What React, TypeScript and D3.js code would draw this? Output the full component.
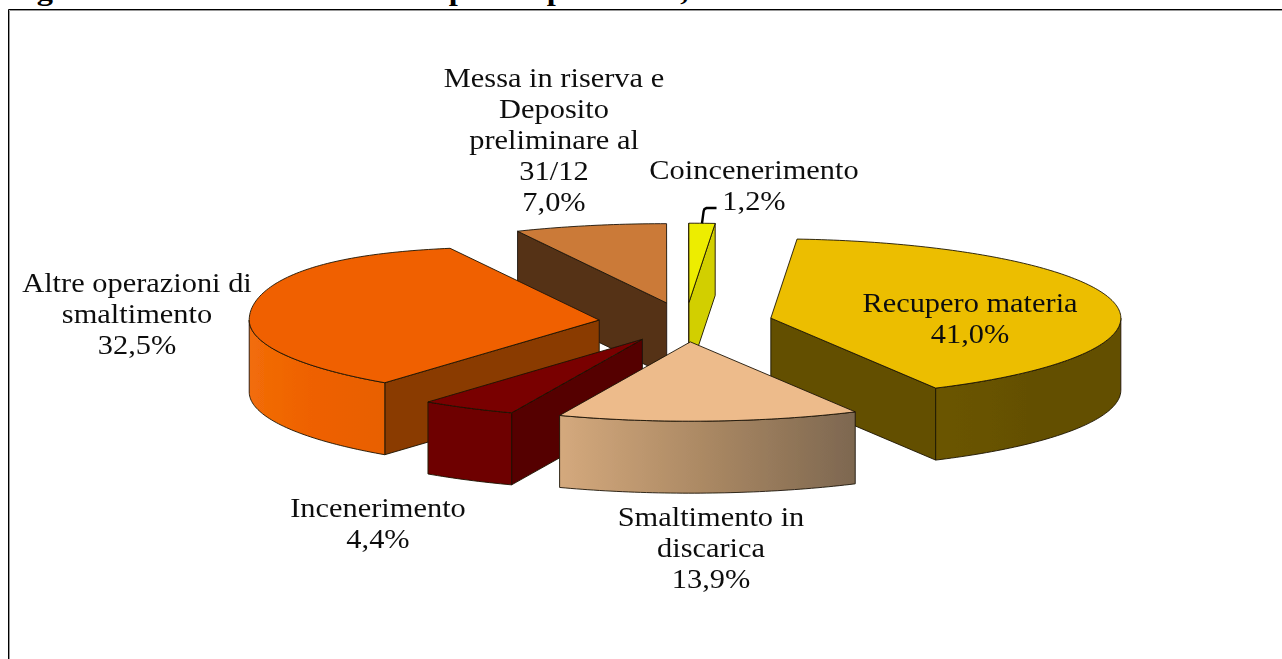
import React from "react";
import * as d3 from "d3";

const categories = [
  ["Recupero materia"],
  ["Smaltimento in", "discarica"],
  ["Incenerimento"],
  ["Altre operazioni di", "smaltimento"],
  ["Messa in riserva e", "Deposito", "preliminare al", "31/12"],
  ["Coincenerimento"],
];
const percentages = [41.0, 13.9, 4.4, 32.5, 7.0, 1.2];
const titleText = "Figura 16 - Gestione dei rifiuti speciali per classe, anno 2016";

const topColors = ["#ecbe00", "#edbb8b", "#790000", "#f06000", "#cb7a38", "#eded00"];
const radialColors = ["#645000", "#7d6750", "#550000", "#8a3a00", "#553216", "#d2cf00"];
const outerStops = [
  ["#6b5500", "#645000", "#645000"],
  ["#d4a97d", "#aa8863", "#7d6750"],
  ["#6e0000", "#6e0000", "#6e0000"],
  ["#f26d08", "#ee6000", "#e86000"],
  ["#553216", "#553216", "#553216"],
  ["#d2cf00", "#d2cf00", "#d2cf00"],
];
// x centre, first baseline
const labelAnchors = [
  [970, 311.7],
  [711, 526],
  [378, 517],
  [137, 292],
  [554, 87],
  [754, 178.6],
];
const drawOrder = [4, 5, 3, 0, 2, 1];

const W = 1282;
const H = 659;
const cx = 685.7;
const cy = 322.2;
const rx = 350;
const ry = 79.3;
const explode = 87;
const depth = 72;
const startDeg = 4.3;
const lineHeight = 31;
const fontSize = 27;
const stretch = 1.126;
const bulgeSlice = 3; // the back-left rim of this slice rises a little above the ellipse
const bulgeHeight = 7;

const fmt = (v: number) => v.toFixed(1).replace(".", ",") + "%";

export default function App() {
  const arcs = d3
    .pie<number>()
    .sort(null)
    .value((d) => d)
    .startAngle((startDeg * Math.PI) / 180)
    .endAngle((startDeg * Math.PI) / 180 + 2 * Math.PI)(percentages);

  const lineGen = d3
    .line<[number, number]>()
    .x((d) => d[0])
    .y((d) => d[1]);

  const slices = arcs.map((a, i) => {
    const mid = (a.startAngle + a.endAngle) / 2;
    const ax = cx + explode * Math.sin(mid);
    const ay = cy - explode * (ry / rx) * Math.cos(mid);
    const pt = (t: number, dz = 0): [number, number] => [
      ax + rx * Math.sin(t),
      ay - ry * Math.cos(t) + dz,
    ];
    const sample = (s: number, e: number, dz = 0) => {
      const n = Math.max(2, Math.ceil(((e - s) * 180) / Math.PI));
      return d3.range(n + 1).map((k) => pt(s + ((e - s) * k) / n, dz));
    };
    const topRim = sample(a.startAngle, a.endAngle).map((p, k, arr) => {
      if (i !== bulgeSlice) return p;
      const t = a.startAngle + ((a.endAngle - a.startAngle) * k) / (arr.length - 1);
      const back = (t - 1.5 * Math.PI) / (a.endAngle - 1.5 * Math.PI);
      if (back <= 0) return p;
      return [p[0], p[1] - bulgeHeight * Math.sin(Math.PI * back)] as [number, number];
    });
    const top = lineGen([[ax, ay], ...topRim]) + "Z";
    const radialWall = (t: number) =>
      lineGen([[ax, ay], pt(t), pt(t, depth), [ax, ay + depth]]) + "Z";
    const twoPi = 2 * Math.PI;
    const sm = a.startAngle % twoPi;
    const em = a.endAngle % twoPi;
    const walls: string[] = [];
    if (sm > Math.PI && sm < twoPi) walls.push(radialWall(a.startAngle));
    if (em > 0 && em < Math.PI) walls.push(radialWall(a.endAngle));
    const os = Math.max(a.startAngle, Math.PI / 2);
    const oe = Math.min(a.endAngle, (3 * Math.PI) / 2);
    const outer =
      oe > os
        ? lineGen([...sample(os, oe), ...sample(os, oe, depth).reverse()]) + "Z"
        : null;
    return { i, top, walls, outer, pt, a };
  });

  const coin = slices[5];
  const ls = coin.pt((coin.a.startAngle + coin.a.endAngle) / 2);
  const leader = d3.line<[number, number]>()([
    [ls[0], ls[1]],
    [ls[0] + 1.6, ls[1] - 12],
    [ls[0] + 2.4, ls[1] - 14.2],
    [ls[0] + 4.4, ls[1] - 15.2],
    [ls[0] + 14.5, ls[1] - 15.2],
  ]);

  const edge = { stroke: "#1c1408", strokeWidth: 0.9, strokeLinejoin: "round" as const };

  return (
    <svg
      width={W}
      height={H}
      viewBox={`0 0 ${W} ${H}`}
      style={{ position: "absolute", left: 0, top: 0, display: "block", background: "#fff" }}
      fontFamily="'Liberation Serif', serif"
    >
      <defs>
        {outerStops.map((stops, i) => (
          <linearGradient key={i} id={`outer${i}`} x1="0" x2="1" y1="0" y2="0">
            {stops.map((c, k) => (
              <stop key={k} offset={k / (stops.length - 1)} stopColor={c} />
            ))}
          </linearGradient>
        ))}
        <filter id="soft" x="-5%" y="-5%" width="110%" height="110%">
          <feGaussianBlur stdDeviation="0.4" />
        </filter>
      </defs>

      <text
        transform={`translate(8,0) scale(1.157,1)`}
        fontSize={28}
        fontWeight="bold"
        fill="#000"
      >
        {titleText}
      </text>

      <path d={`M8.5,${H}V9.5H${W}`} fill="none" stroke="#000" strokeWidth={1} />
      <path d={`M9.5,${H}V10.5H${W}`} fill="none" stroke="#999" strokeWidth={1} />

      <g filter="url(#soft)">
        {drawOrder.map((idx) => {
          const s = slices[idx];
          return (
            <g key={idx}>
              {s.walls.map((d, k) => (
                <path key={k} d={d} fill={radialColors[idx]} {...edge} />
              ))}
              {s.outer && <path d={s.outer} fill={`url(#outer${idx})`} {...edge} />}
              <path d={s.top} fill={topColors[idx]} {...edge} />
            </g>
          );
        })}
        <path d={leader || ""} fill="none" stroke="#000" strokeWidth={2.4} />
        {categories.map((lines, i) => {
          const [x, y] = labelAnchors[i];
          const all = [...lines, fmt(percentages[i])];
          return (
            <g key={i}>
              {all.map((t, k) => (
                <text
                  key={k}
                  transform={`translate(${x},${y + k * lineHeight}) scale(${stretch},1)`}
                  textAnchor="middle"
                  fontSize={fontSize}
                  fill="#111"
                >
                  {t}
                </text>
              ))}
            </g>
          );
        })}
      </g>
    </svg>
  );
}
